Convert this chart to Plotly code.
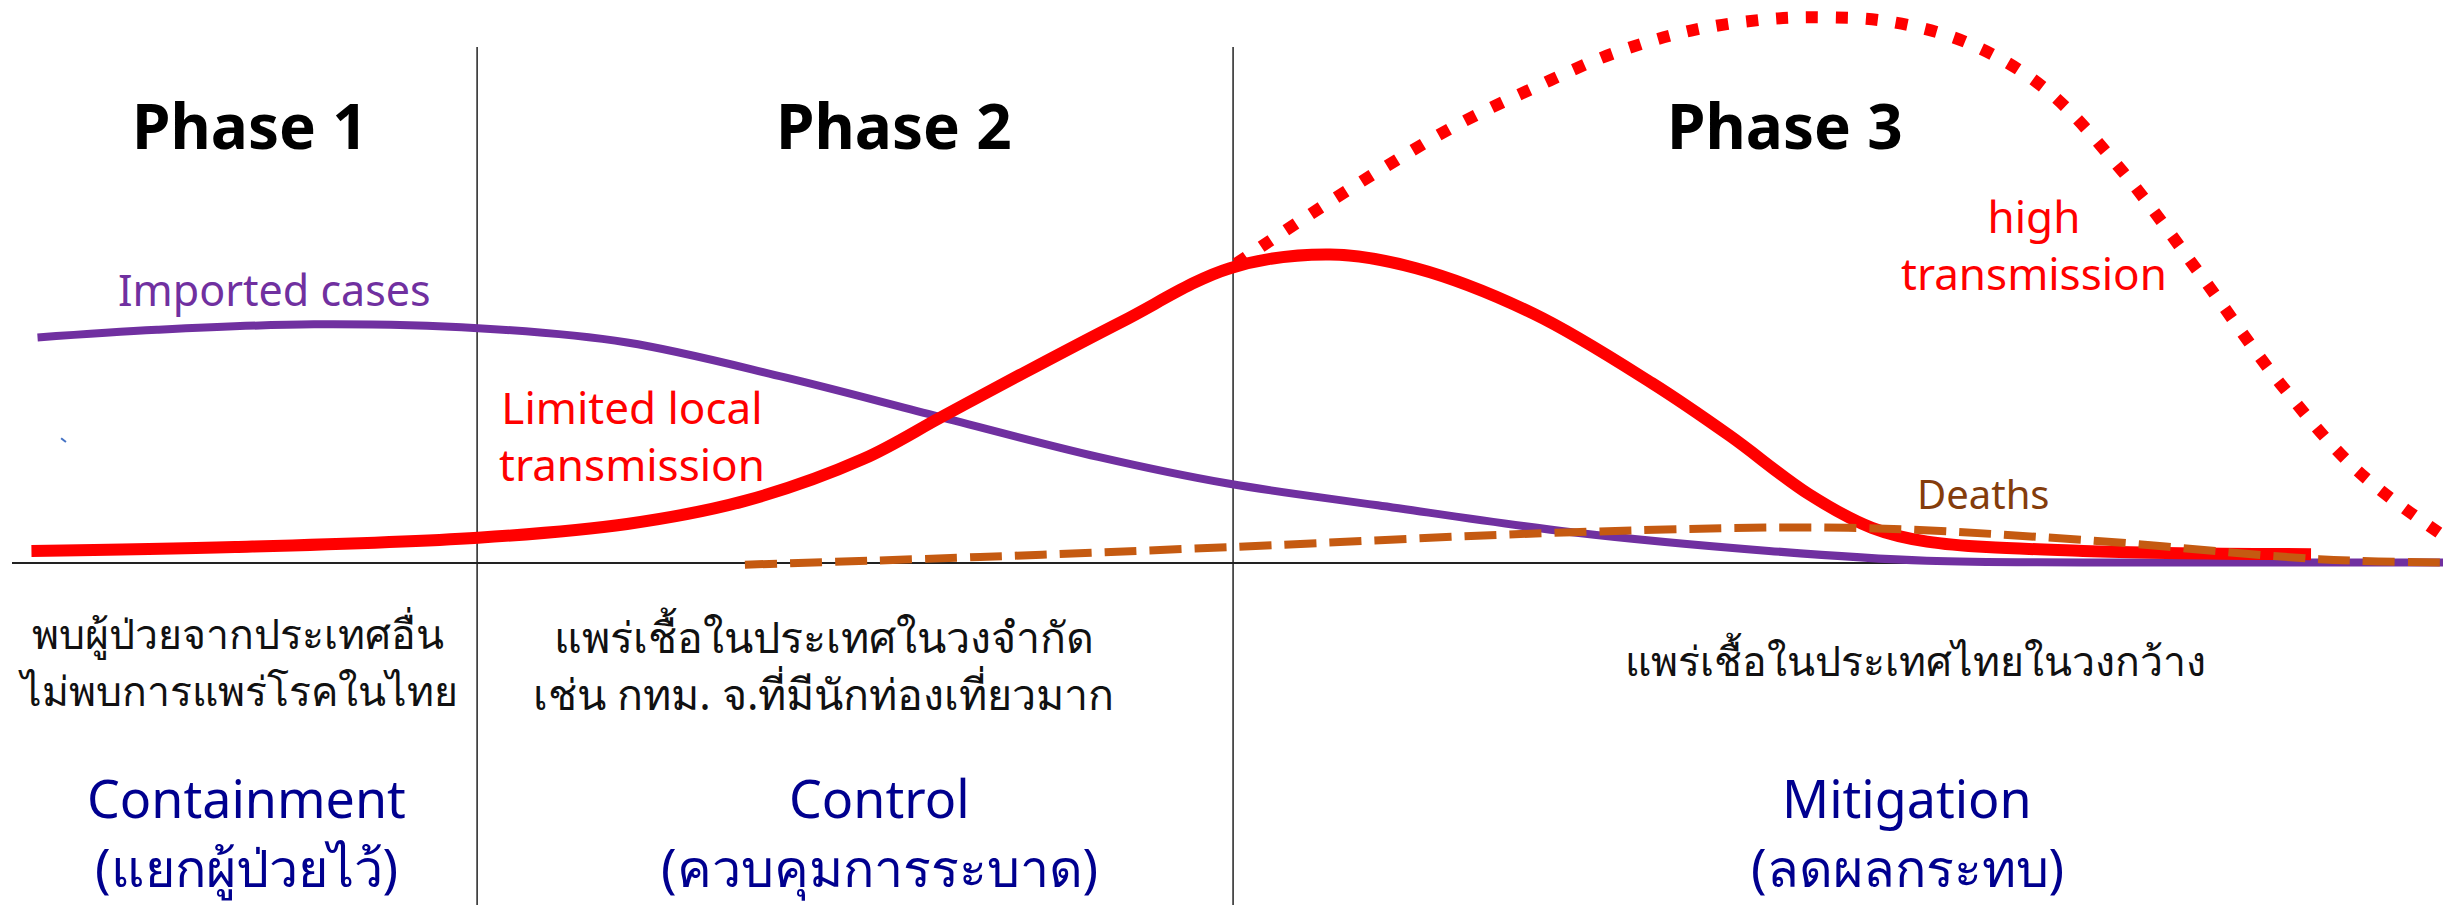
import plotly.graph_objects as go

# ---- data (schematic units: x = time 0..100, y = level 0..100) ----
imported_x = [1.05, 5.97, 12.43, 19.18, 25.31, 31.77, 37.9, 44.7, 50.1, 56.2, 64.2, 72.3, 78.8, 85.2, 100.1]
imported_y = [41.0, 42.4, 43.4, 42.7, 40.1, 33.8, 26.9, 19.3, 14.4, 10.5, 5.6, 2.2, 0.4, 0.1, 0.1]

local_x = [0.80, 9.18, 19.18, 25.31, 30.16, 35.02, 38.23, 41.48, 45.68, 50.12, 54.24, 57.78,
           62.63, 67.49, 70.70, 73.95, 76.54, 78.81, 85.23, 94.61]
local_y = [2.2, 2.9, 4.6, 7.1, 11.3, 18.9, 26.5, 34.2, 43.9, 53.6, 56.1, 53.6,
           45.3, 32.7, 23.1, 12.5, 6.4, 3.9, 2.2, 1.6]

high_x = [50.37, 52.94, 56.17, 59.40, 62.63, 65.86, 69.09, 72.33, 74.59, 77.16, 80.41,
          83.62, 86.87, 90.08, 93.33, 96.54, 100.08]
high_y = [54.4, 62.0, 71.1, 79.5, 86.4, 92.6, 96.8, 98.9, 99.2, 98.5, 94.7,
          86.4, 71.1, 52.3, 32.7, 16.7, 4.9]

deaths_x = [30.16, 39.84, 50.12, 64.24, 75.56, 85.23, 94.94, 100.08]
deaths_y = [-0.3, 1.1, 2.9, 5.6, 6.4, 4.2, 0.7, 0.1]

phase_bounds = [19.14, 50.25]
phase_titles = ["Phase 1", "Phase 2", "Phase 3"]
phase_title_x = [9.79, 36.3, 72.96]

desc_lines = [["พบผู้ป่วยจากประเทศอื่น", "ไม่พบการแพร่โรคในไทย"],
              ["แพร่เชื้อในประเทศในวงจำกัด", "เช่น กทม. จ.ที่มีนักท่องเที่ยวมาก"],
              ["แพร่เชื้อในประเทศไทยในวงกว้าง"]]
desc_x = [9.30, 33.4, 78.35]
desc_y = [[-12.7, -23.1], [-13.3, -23.8], [-17.6]]
strategy_en = ["Containment", "Control", "Mitigation"]
strategy_th = ["(แยกผู้ป่วยไว้)", "(ควบคุมการระบาด)", "(ลดผลกระทบ)"]
strategy_x = [9.65, 35.7, 78.0]

PURPLE = "#7030A0"
RED = "#FF0000"
BROWN = "#C55A11"
BLUE = "#00008F"
FONT = "Noto Sans, DejaVu Sans, sans-serif"

fig = go.Figure()
fig.add_trace(go.Scatter(x=imported_x, y=imported_y, mode="lines",
                         line=dict(color=PURPLE, width=8, shape="spline", smoothing=1.0)))
fig.add_trace(go.Scatter(x=high_x, y=high_y, mode="lines",
                         line=dict(color=RED, width=12, dash="12px,18px", shape="spline", smoothing=1.0)))
fig.add_trace(go.Scatter(x=local_x, y=local_y, mode="lines",
                         line=dict(color=RED, width=12, shape="spline", smoothing=1.0)))
fig.add_trace(go.Scatter(x=deaths_x, y=deaths_y, mode="lines",
                         line=dict(color=BROWN, width=8, dash="32px,13px", shape="spline", smoothing=1.0)))

# baseline axis and phase separators
fig.add_shape(type="line", x0=0, x1=100, y0=0, y1=0, line=dict(color="#222222", width=2), layer="below")
for b in phase_bounds:
    fig.add_shape(type="line", x0=b, x1=b, y0=93.8, y1=-63, line=dict(color="#222222", width=1.5), layer="below")
# small stray mark present in the original
fig.add_shape(type="line", x0=2.02, x1=2.22, y0=22.7, y1=22.0, line=dict(color="#4472C4", width=2))

ann = []
for t, x in zip(phase_titles, phase_title_x):
    ann.append(dict(x=x, y=79.6, text=t, font=dict(family=FONT, size=62, color="black", weight="bold")))
ann.append(dict(x=10.82, y=49.8, text="Imported cases", font=dict(family=FONT, size=43, color=PURPLE)))
ann.append(dict(x=25.5, y=23.1, text="Limited local<br>transmission", font=dict(family=FONT, size=44, color=RED)))
ann.append(dict(x=83.2, y=58.0, text="high<br>transmission", font=dict(family=FONT, size=44, color=RED)))
ann.append(dict(x=81.15, y=12.6, text="Deaths", font=dict(family=FONT, size=40, color="#843C0C")))

desc_sizes = [41, 43, 41]
for lines, x, ys, sz in zip(desc_lines, desc_x, desc_y, desc_sizes):
    for line, y in zip(lines, ys):
        ann.append(dict(x=x, y=y, text=line, font=dict(family=FONT, size=sz, color="#111111")))
for en, th, x in zip(strategy_en, strategy_th, strategy_x):
    ann.append(dict(x=x, y=-42.7, text=en, font=dict(family=FONT, size=52, color=BLUE)))
    ann.append(dict(x=x, y=-55.1, text=th, font=dict(family=FONT, size=52, color=BLUE)))

for a in ann:
    a.update(xref="x", yref="y", showarrow=False, xanchor="center", yanchor="middle")

# page body has an 8px margin: figure sized/ranged so data lands where the original draws it
fig.update_layout(
    width=2443, height=897,
    margin=dict(l=0, r=0, t=0, b=0),
    paper_bgcolor="white", plot_bgcolor="white",
    showlegend=False,
    annotations=ann,
    xaxis=dict(range=[-0.165, 100.37], visible=False, fixedrange=True),
    yaxis=dict(range=[-62.18, 100.91], visible=False, fixedrange=True),
)
fig.write_html("out.html")
